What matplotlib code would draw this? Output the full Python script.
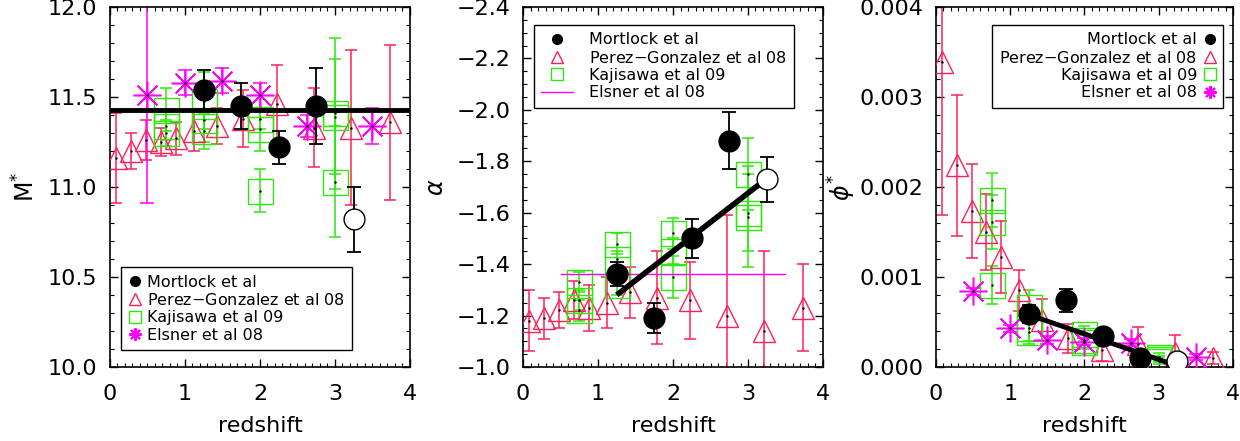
import matplotlib
matplotlib.use('Agg')
import matplotlib.pyplot as plt
from matplotlib.lines import Line2D
from matplotlib.ticker import MultipleLocator, FuncFormatter

# ---- data ----
# Mortlock et al (last point is the open circle)
mort_z = [1.25, 1.75, 2.25, 2.75, 3.25]
mort_mstar = [11.54, 11.45, 11.22, 11.45, 10.82]
mort_mstar_err = [0.11, 0.13, 0.09, 0.21, 0.18]
mort_alpha = [-1.36, -1.19, -1.50, -1.88, -1.73]
mort_alpha_err = [0.047, 0.06, 0.075, 0.11, 0.087]
mort_phi = [0.00059, 0.00074, 0.00034, 0.00010, 0.00007]
mort_phi_err = [0.00010, 0.00013, 0.00005, 0.00003, 0.00003]

# Perez-Gonzalez et al 08
pg_z = [0.08, 0.28, 0.48, 0.68, 0.88, 1.12, 1.43, 1.78, 2.23, 2.72, 3.22, 3.73]
pg_mstar = [11.16, 11.20, 11.26, 11.25, 11.27, 11.31, 11.34, 11.38, 11.46, 11.33, 11.33, 11.36]
pg_mstar_err = [0.25, 0.10, 0.11, 0.08, 0.09, 0.11, 0.10, 0.16, 0.22, 0.22, 0.43, 0.43]
pg_alpha = [-1.18, -1.19, -1.22, -1.26, -1.23, -1.25, -1.29, -1.27, -1.26, -1.20, -1.14, -1.23]
pg_alpha_err = [0.12, 0.08, 0.07, 0.075, 0.09, 0.10, 0.10, 0.18, 0.15, 0.39, 0.31, 0.17]
pg_phi = [0.00339, 0.00224, 0.00173, 0.00150, 0.00122, 0.00085, 0.00052, 0.00032,
          0.00019, 0.00026, 0.00016, 0.00010]
pg_phi_err = [0.0017, 0.00078, 0.00052, 0.00042, 0.00040, 0.00023, 0.00023, 0.00016,
              0.00012, 0.00018, 0.00019, 0.00007]

# Kajisawa et al 09 (several fields per redshift bin)
kaj_z = [0.75, 0.75, 0.75, 1.25, 1.25, 1.25, 2.0, 2.0, 2.0, 3.0, 3.0, 3.0]
kaj_mstar = [11.43, 11.34, 11.30, 11.48, 11.37, 11.31, 11.38, 11.32, 10.98, 11.41, 11.39, 11.03]
kaj_mstar_err = [0.12, 0.08, 0.07, 0.16, 0.12, 0.10, 0.06, 0.12, 0.12, 0.42, 0.32, 0.31]
kaj_alpha = [-1.33, -1.26, -1.22, -1.48, -1.42, -1.32, -1.52, -1.45, -1.35, -1.75, -1.60, -1.585]
kaj_alpha_err = [0.04, 0.04, 0.04, 0.04, 0.03, 0.04, 0.06, 0.05, 0.08, 0.14, 0.15, 0.195]
kaj_phi = [0.00186, 0.00161, 0.00091, 0.00067, 0.00043, 0.00039, 0.00037, 0.00028, 0.00030,
           0.00011, 0.00007, 0.00009]
kaj_phi_err = [0.00030, 0.00030, 0.00021, 0.00018, 0.00014, 0.00014, 0.00008, 0.00008, 0.00006,
               0.00004, 0.00004, 0.00003]

# Elsner et al 08
els_z = [0.5, 1.0, 1.5, 2.0, 2.63, 3.5]
els_mstar = [11.51, 11.58, 11.59, 11.51, 11.34, 11.34]
els_mstar_err = [0.60, 0.07, 0.07, 0.07, 0.06, 0.10]
els_phi = [0.00084, 0.00043, 0.00030, 0.00028, 0.00027, 0.00011]
els_phi_err = [0.00004, 0.00004, 0.00004, 0.00004, 0.00004, 0.00003]
els_alpha = -1.36
els_alpha_z = [0.5, 3.5]

# fits
mstar_mean = 11.43
fit_z = [1.25, 3.15]
fit_alpha = [-1.28, -1.71]
fit_phi = [0.00058, 0.00004]

RED = '#ff1f5a'
GREEN = '#2ee80c'
MAG = '#ff00ff'

plt.rcParams['font.family'] = 'DejaVu Sans'
plt.rcParams['axes.linewidth'] = 1.2

fig = plt.figure(figsize=(12.4, 4.41), dpi=100)
axes = [fig.add_axes([0.0887, 0.168, 0.2419, 0.816]),
        fig.add_axes([0.4218, 0.168, 0.2419, 0.816]),
        fig.add_axes([0.7548, 0.168, 0.2395, 0.816])]


def points(ax, z, y, yerr, marker, color, ms, mew=1.0, cap=4, face='none'):
    ax.errorbar(z, y, yerr=yerr, fmt='none', ecolor=color, elinewidth=1.1,
                capsize=cap, capthick=1.1, zorder=2)
    ax.plot(z, y, ls='none', marker=marker, ms=ms, mfc=face, mec=color, mew=mew, zorder=3)
    ax.plot(z, y, ls='none', marker='.', ms=1.5, color='k', zorder=3.5)


def mortlock(ax, z, y, yerr):
    ax.errorbar(z, y, yerr=yerr, fmt='none', ecolor='k', elinewidth=1.3,
                capsize=5, capthick=1.3, zorder=4)
    ax.plot(z[:-1], y[:-1], ls='none', marker='o', ms=15, mfc='k', mec='k', zorder=5)
    ax.plot(z[-1:], y[-1:], ls='none', marker='o', ms=15, mfc='white', mec='k', mew=1.0, zorder=5)


def style(ax, ylab, ymaj, ymin, ndec, ylpad):
    ax.set_xlim(0, 4)
    ax.xaxis.set_major_locator(MultipleLocator(1))
    ax.xaxis.set_minor_locator(MultipleLocator(0.1))
    ax.yaxis.set_major_locator(MultipleLocator(ymaj))
    ax.yaxis.set_minor_locator(MultipleLocator(ymin))
    ax.yaxis.set_major_formatter(
        FuncFormatter(lambda v, p: ('%.*f' % (ndec, v)).replace('-', '\u2212')))
    ax.tick_params(which='both', direction='in', top=True, right=True, labelsize=16)
    ax.tick_params(axis='x', pad=12)
    ax.tick_params(axis='y', pad=9)
    ax.tick_params(which='major', length=6, width=1)
    ax.tick_params(which='minor', length=3, width=0.8)
    ax.set_xlabel('redshift', fontsize=16, labelpad=9)
    ax.set_ylabel(ylab, fontsize=17, labelpad=ylpad)


marker_ast = (8, 2, 0)
labels = ['Mortlock et al', 'Perez$-$Gonzalez et al 08', 'Kajisawa et al 09', 'Elsner et al 08']
leg_kw = dict(borderaxespad=0, fontsize=11.5, labelspacing=0.15, borderpad=0.45,
              fancybox=False, edgecolor='k', framealpha=1)

# ---- panel 1: M* ----
ax = axes[0]
points(ax, pg_z, pg_mstar, pg_mstar_err, '^', RED, 16)
points(ax, kaj_z, kaj_mstar, kaj_mstar_err, 's', GREEN, 18)
points(ax, els_z, els_mstar, els_mstar_err, marker_ast, MAG, 20, mew=1.1, cap=5)
ax.axhline(mstar_mean, color='k', lw=3.5, zorder=4.5)
mortlock(ax, mort_z, mort_mstar, mort_mstar_err)
ax.set_ylim(10.0, 12.0)
style(ax, 'M$^{*}$', 0.5, 0.1, 1, 6)

h1 = [Line2D([], [], ls='none', marker='o', ms=7, color='k'),
      Line2D([], [], ls='none', marker='^', ms=8, mfc='none', mec=RED),
      Line2D([], [], ls='none', marker='s', ms=8, mfc='none', mec=GREEN),
      Line2D([], [], ls='none', marker=marker_ast, ms=9, mec=MAG, mew=1.5)]
leg = ax.legend(h1, labels, loc='lower left', bbox_to_anchor=(0.037, 0.047),
                handlelength=0.8, handletextpad=0.4, **leg_kw)
leg.get_frame().set_linewidth(1.0)

# ---- panel 2: alpha ----
ax = axes[1]
points(ax, pg_z, pg_alpha, pg_alpha_err, '^', RED, 16)
points(ax, kaj_z, kaj_alpha, kaj_alpha_err, 's', GREEN, 18)
ax.plot(els_alpha_z, [els_alpha, els_alpha], color=MAG, lw=1.0, zorder=3)
ax.plot(fit_z, fit_alpha, color='k', lw=4, solid_capstyle='butt', zorder=4.5)
mortlock(ax, mort_z, mort_alpha, mort_alpha_err)
ax.set_ylim(-1.0, -2.4)
style(ax, r'$\alpha$', 0.2, 0.05, 1, 6)

h2 = [Line2D([], [], ls='none', marker='o', ms=7, color='k'),
      Line2D([], [], ls='none', marker='^', ms=8, mfc='none', mec=RED),
      Line2D([], [], ls='none', marker='s', ms=8, mfc='none', mec=GREEN),
      Line2D([], [], color=MAG, lw=1.0)]
leg = ax.legend(h2, labels, loc='upper left', bbox_to_anchor=(0.036, 0.95),
                handlelength=2.0, handletextpad=1.0, **leg_kw)
leg.get_frame().set_linewidth(1.0)

# ---- panel 3: phi* ----
ax = axes[2]
points(ax, pg_z, pg_phi, pg_phi_err, '^', RED, 16)
points(ax, kaj_z, kaj_phi, kaj_phi_err, 's', GREEN, 18)
points(ax, els_z, els_phi, els_phi_err, marker_ast, MAG, 20, mew=1.1, cap=5)
ax.plot(fit_z, fit_phi, color='k', lw=3.5, solid_capstyle='butt', zorder=4.5)
mortlock(ax, mort_z, mort_phi, mort_phi_err)
ax.set_ylim(0.0, 0.004)
style(ax, r'$\phi^{*}$', 0.001, 0.0002, 3, 1)

leg = ax.legend(h1, labels, loc='upper right', bbox_to_anchor=(0.968, 0.95),
                handlelength=0.8, handletextpad=0.4, markerfirst=False, **leg_kw)
leg.get_frame().set_linewidth(1.0)

fig.savefig('out.png', dpi=100)
